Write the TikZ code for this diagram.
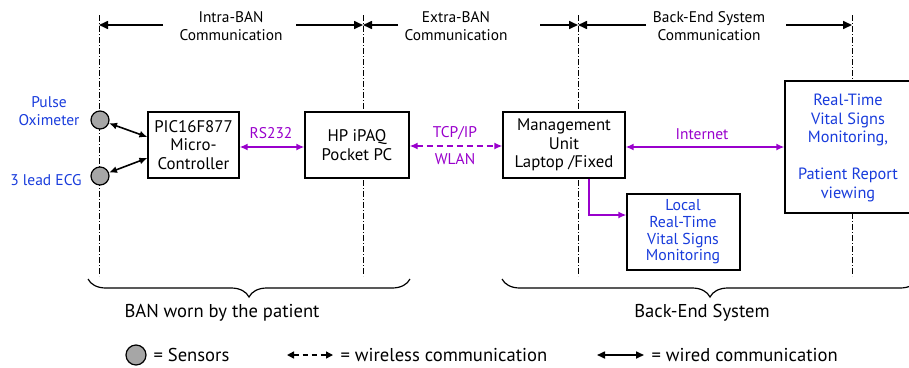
\documentclass[tikz,border=0pt]{standalone}
\usepackage{fontspec}
\setmainfont{PT Sans}
\usetikzlibrary{arrows.meta,decorations.pathreplacing}
\definecolor{purp}{RGB}{153,0,204}
\definecolor{blu}{RGB}{25,60,220}
\begin{document}
\begin{tikzpicture}[x=1pt,y=-1pt,
  box/.style={draw, line width=1.2pt, fill=white, align=center, inner sep=0pt, font=\fontsize{16.8}{18.5}\selectfont},
  sepline/.style={line width=1pt, dash pattern=on 6pt off 2pt on 1pt off 2pt},
  dimarrow/.style={line width=1.6pt, -{Triangle[length=9pt,width=8pt]}},
  toplbl/.style={align=center, font=\fontsize{15.4}{18}\selectfont},
  wired/.style={line width=1.6pt, {Latex[length=8pt,width=7pt]}-{Latex[length=8pt,width=7pt]}},
  plink/.style={purp, line width=1.6pt, {Latex[length=8pt,width=7pt]}-{Latex[length=8pt,width=7pt]}},
  plbl/.style={purp, font=\fontsize{15.5}{17}\selectfont},
  bluetext/.style={blu, align=center, font=\fontsize{15.5}{18}\selectfont},
  sensor/.style={circle, draw, line width=1.2pt, fill=gray!70, minimum size=18pt, inner sep=0pt},
  bigbrace/.style={decorate, decoration={brace, mirror, amplitude=18pt}, line width=1.2pt},
  bottomlbl/.style={font=\fontsize{18.6}{20}\selectfont},
]
\useasboundingbox (0,0) rectangle (909,367);
% separator lines
\coordinate (a1) at (99,15);  \coordinate (a2) at (99,276);
\coordinate (b1) at (363,15); \coordinate (b2) at (363,276);
\coordinate (c1) at (578,15); \coordinate (c2) at (578,276);
\coordinate (d1) at (852,15); \coordinate (d2) at (852,276);
\draw[sepline] (a1) -- (a2);
\draw[sepline] (b1) -- (b2);
\draw[sepline] (c1) -- (c2);
\draw[sepline] (d1) -- (d2);
% top dimension arrows
\node[toplbl] (intra) at (231,26) {Intra-BAN\\Communication};
\node[toplbl] (extra) at (456,26) {Extra-BAN\\Communication};
\node[toplbl] (back) at (709,26) {Back-End System\\Communication};
\coordinate (ia) at (163,25); \coordinate (ib) at (296,25);
\coordinate (ea) at (398,25); \coordinate (eb) at (540,25);
\coordinate (ba) at (646,25); \coordinate (bb) at (786,25);
\draw[dimarrow] (ia) -- (99,25);
\draw[dimarrow] (ib) -- (363,25);
\draw[dimarrow] (ea) -- (363,25);
\draw[dimarrow] (eb) -- (578,25);
\draw[dimarrow] (ba) -- (578,25);
\draw[dimarrow] (bb) -- (852,25);
% sensors
\node[sensor] (s1) at (100,120) {};
\node[sensor] (s2) at (100,176) {};
\node[bluetext] (l1) at (49,111) {Pulse\\Oximeter};
\node[bluetext] (l2) at (46,180) {3 lead ECG};
% boxes
\node[box, minimum width=91pt, minimum height=66pt] (pic) at (193.5,145) {PIC16F877\\Micro-\\Controller};
\node[box, minimum width=104pt, minimum height=66pt] (hp) at (357,145) {HP iPAQ\\Pocket PC};
\node[box, minimum width=122pt, minimum height=66pt] (mu) at (564,145) {Management\\Unit\\Laptop /Fixed};
\node[box, minimum width=130pt, minimum height=132pt] (rt) at (850,147) {};
\node[bluetext, font=\fontsize{16.3}{18.6}\selectfont] (rtt) at (848,148) {Real-Time\\Vital Signs\\Monitoring,\\[18.6pt]Patient Report\\viewing};
\node[box, minimum width=113pt, minimum height=76pt] (loc) at (683.5,232) {};
\node[bluetext, font=\fontsize{15.8}{16.7}\selectfont] (loct) at (683,232) {Local\\Real-Time\\Vital Signs\\Monitoring};
% connections
\draw[wired] (s1) -- (pic.west |- 0,137);
\draw[wired] (s2) -- (pic.west |- 0,158);
\draw[plink] (pic.east |- 0,147) -- (hp.west |- 0,147);
\node[plbl] (rs) at (271,133) {RS232};
\draw[plink, dashed, dash pattern=on 6pt off 4pt] (hp.east |- 0,146) -- (mu.west |- 0,146);
\node[plbl] (tcp) at (455,133) {TCP/IP};
\node[plbl] (wlan) at (455,159) {WLAN};
\draw[plink] (mu.east |- 0,147) -- (rt.west |- 0,147);
\node[plbl] (inet) at (702,134) {Internet};
\draw[purp, line width=1.6pt, -{Latex[length=8pt,width=7pt]}] (mu.south -| 589,0) |- (loc.west |- 0,215);
% braces
\coordinate (lb1) at (88,279); \coordinate (lb2) at (410,279);
\coordinate (rb1) at (502,279); \coordinate (rb2) at (918,279);
\draw[bigbrace] (lb1) -- (lb2);
\draw[bigbrace] (rb1) -- (rb2);
\node[bottomlbl] (ban) at (222,313) {BAN worn by the patient};
\node[bottomlbl] (bes) at (702,313) {Back-End System};
% legend
\node[sensor, minimum size=20pt] (lc) at (136,355) {};
\node[bottomlbl, anchor=west] (lct) at (150,355) {= Sensors};
\coordinate (wl1) at (287,355); \coordinate (wl2) at (333,355);
\draw[line width=1.4pt, dashed, dash pattern=on 5pt off 4pt, {Triangle[length=7pt,width=7pt]}-{Triangle[length=7pt,width=7pt]}] (wl1) -- (wl2);
\node[bottomlbl, anchor=west] (wlt) at (337,355) {= wireless communication};
\coordinate (wd1) at (597,355); \coordinate (wd2) at (644,355);
\draw[line width=1.6pt, {Triangle[length=8pt,width=7pt]}-{Triangle[length=8pt,width=7pt]}] (wd1) -- (wd2);
\node[bottomlbl, anchor=west] (wdt) at (648,355) {= wired communication};
\end{tikzpicture}
\end{document}
